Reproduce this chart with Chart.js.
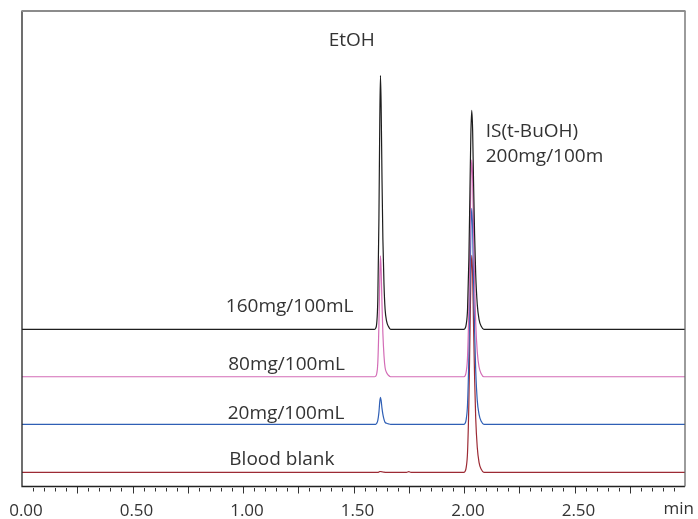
<!DOCTYPE html>
<html>
<head>
<meta charset="utf-8">
<script src="https://cdn.jsdelivr.net/npm/chart.js@4.4.0/dist/chart.umd.min.js"></script>
<style>
  html, body { margin: 0; padding: 0; background: #fff; }
</style>
</head>
<body>
<canvas id="chromChart" width="698" height="519"></canvas>
<script>
// retention time (min) of every sampled point, shared by the four traces
const times = [0.00, 1.50, 1.595, 1.600, 1.605, 1.610, 1.615, 1.619, 1.622, 1.625, 1.629, 1.633, 1.638, 1.643, 1.650, 1.658, 1.668,
    1.740, 1.750, 1.760,
    2.000, 2.005, 2.010, 2.016, 2.022, 2.027, 2.031, 2.035, 2.039, 2.043, 2.048, 2.053, 2.060, 2.068, 2.078, 2.090, 3.00]

// signal above each trace's own baseline
const signal160 = [0, 0, 0, 1, 6, 30, 110, 210, 254, 225, 150, 90, 45, 20, 8, 3, 0,
    0, 0, 0,
    0, 1, 5, 20, 70, 140, 195, 219, 200, 150, 95, 55, 25, 10, 3, 0, 0]
const signal80 = [0, 0, 0, 0.5, 3, 14, 52, 100, 121, 107, 72, 43, 21, 9, 4, 1.5, 0,
    0, 0, 0,
    0, 1, 5, 20, 69, 139, 193, 217, 198, 149, 94, 54, 25, 10, 3, 0, 0]
const signal20 = [0, 0, 0, 0, 1, 4, 12, 23, 27, 24, 16, 10, 5, 2, 1, 0.5, 0,
    0, 0, 0,
    0, 1, 5, 20, 68, 138, 192, 216, 197, 148, 93, 54, 24, 10, 3, 0, 0]
const signalBlank = [0, 0, 0, 0, 0, 0, 0.3, 0.7, 0.8, 0.7, 0.5, 0.3, 0.1, 0, 0, 0, 0,
    0, 0.6, 0,
    0, 1, 5, 20, 69, 139, 193, 217, 198, 149, 94, 54, 25, 10, 3, 0, 0]

const traceNames = ['160mg/100mL', '80mg/100mL', '20mg/100mL', 'Blood blank']
const traceSignals = [signal160, signal80, signal20, signalBlank]
// vertical offset of each trace in the stacked display
const traceOffsets = [143, 95.6, 48, 0]
const traceColors = ['#1e1e1e', '#d36cb6', '#2f5fb5', '#9c2a34']

const xTickStep = 0.05
const xMin = 0
const xMax = 3.0

// text placed on the plot, in data units
const annotations = [
    { text: 'EtOH', t: 1.492, v: 432, align: 'center' },
    { text: 'IS(t-BuOH)', t: 2.098, v: 340.6, align: 'left' },
    { text: '200mg/100m', t: 2.098, v: 315.6, align: 'left' },
    { text: '160mg/100mL', t: 1.211, v: 165.6, align: 'center' },
    { text: '80mg/100mL', t: 1.197, v: 107.3, align: 'center' },
    { text: '20mg/100mL', t: 1.195, v: 58.3, align: 'center' },
    { text: 'Blood blank', t: 1.176, v: 12.3, align: 'center' }
]

const textColor = '#333'

const isMajor = v => Math.round(v * 100) % 25 === 0
const isLabelled = v => Math.round(v * 100) % 50 === 0

const framePlugin = {
    id: 'frame',
    afterDraw(chart) {
        const { ctx, chartArea: a, scales } = chart
        const xs = scales.x
        ctx.save()
        // tick marks below the axis
        ctx.strokeStyle = '#333'
        ctx.lineWidth = 1
        xs.ticks.forEach(tk => {
            const px = Math.round(xs.getPixelForValue(tk.value)) + 0.5
            if (px <= a.left + 1 || px >= a.right - 1) return
            const major = isMajor(tk.value)
            ctx.beginPath()
            ctx.moveTo(px, a.bottom + (major ? 0 : 1.5))
            ctx.lineTo(px, a.bottom + (major ? 7 : 5))
            ctx.stroke()
        })
        // box
        ctx.lineWidth = 1.3
        ctx.strokeStyle = '#222'
        ctx.beginPath()
        ctx.moveTo(a.left, a.top)
        ctx.lineTo(a.left, a.bottom)
        ctx.lineTo(a.right, a.bottom)
        ctx.stroke()
        ctx.strokeStyle = '#666'
        ctx.beginPath()
        ctx.moveTo(a.right, a.bottom)
        ctx.lineTo(a.right, a.top)
        ctx.stroke()
        ctx.lineWidth = 2
        ctx.strokeStyle = '#8c8c8c'
        ctx.beginPath()
        ctx.moveTo(a.left - 0.6, a.top)
        ctx.lineTo(a.right + 0.5, a.top)
        ctx.stroke()

        // annotations
        ctx.fillStyle = textColor
        ctx.font = '19px "Open Sans"'
        ctx.textBaseline = 'middle'
        annotations.forEach(an => {
            ctx.textAlign = an.align
            ctx.fillText(an.text, xs.getPixelForValue(an.t), scales.y.getPixelForValue(an.v))
        })
        // axis unit
        ctx.font = '17px "Open Sans"'
        ctx.textAlign = 'right'
        ctx.fillText('min', a.right + 9, a.bottom + 23)
        ctx.restore()
    }
}

const datasets = traceNames.map((name, i) => ({
    label: name,
    data: times.map((t, j) => ({ x: t, y: traceSignals[i][j] + traceOffsets[i] })),
    borderColor: traceColors[i],
    borderWidth: 1.2,
    pointRadius: 0,
    cubicInterpolationMode: 'monotone',
    fill: false
}))

new Chart('chromChart', {
    type: 'line',
    data: { datasets },
    options: {
        responsive: false,
        animation: false,
        layout: { padding: { left: 22, right: 13, top: 11, bottom: 0 } },
        plugins: {
            legend: { display: false },
            tooltip: { enabled: false }
        },
        scales: {
            x: {
                type: 'linear',
                min: xMin,
                max: xMax,
                grid: { display: false, drawTicks: false },
                border: { display: false },
                afterFit: scale => {
                    scale.height = 32.5
                    scale.paddingLeft = 0
                    scale.paddingRight = 0
                },
                ticks: {
                    stepSize: xTickStep,
                    autoSkip: false,
                    maxRotation: 0,
                    padding: 14,
                    labelOffset: 4,
                    color: textColor,
                    font: { family: 'Open Sans', size: 17 },
                    callback: v => (isLabelled(v) && v < xMax - 0.01) ? v.toFixed(2) : ''
                }
            },
            y: {
                display: false,
                min: -14.2,
                max: 461.5
            }
        }
    },
    plugins: [framePlugin]
})
</script>
</body>
</html>
